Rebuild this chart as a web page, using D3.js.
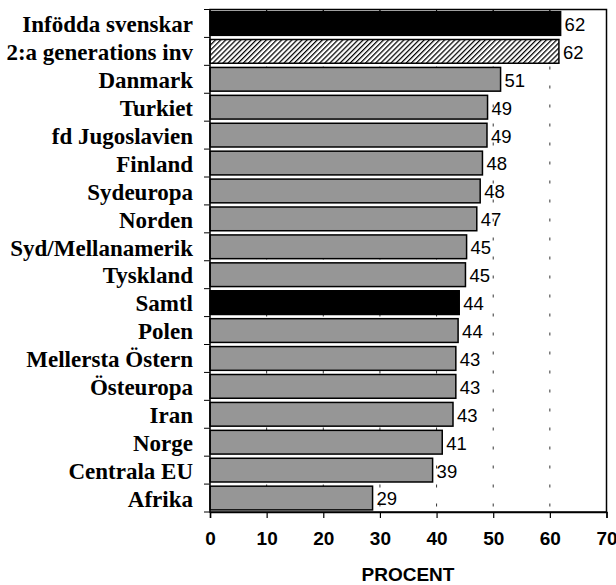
<!DOCTYPE html>
<html lang="sv">
<head>
    <meta charset="UTF-8">
    <title>Procent per ursprung</title>
    <script src="https://d3js.org/d3.v7.min.js"></script>
    <style>
        body { margin: 0; background: #fff; }
        svg { display: block; }
        .cat { font-family: "Liberation Serif", "Times New Roman", serif; font-weight: bold; font-size: 23px; }
        .val { font-family: "Liberation Sans", Arial, sans-serif; font-size: 18.5px; }
        .tick-lab { font-family: "Liberation Sans", Arial, sans-serif; font-weight: bold; font-size: 19px; }
        .title { font-family: "Liberation Sans", Arial, sans-serif; font-weight: bold; font-size: 19px; }
    </style>
</head>
<body>
<svg id="chart"></svg>
<script>
    const width = 616, height = 585;

    // data
    const categories = ["Infödda svenskar", "2:a generations inv", "Danmark", "Turkiet", "fd Jugoslavien",
        "Finland", "Sydeuropa", "Norden", "Syd/Mellanamerik", "Tyskland", "Samtl", "Polen",
        "Mellersta Östern", "Östeuropa", "Iran", "Norge", "Centrala EU", "Afrika"];
    const values = [61.9, 61.6, 51.3, 49.0, 48.9, 48.1, 47.7, 47.1, 45.3, 45.1, 44.0, 43.8,
        43.4, 43.4, 42.9, 41.0, 39.3, 28.7];
    const fills = ["black", "hatch", "gray", "gray", "gray", "gray", "gray", "gray", "gray", "gray",
        "black", "gray", "gray", "gray", "gray", "gray", "gray", "gray"];
    const xTicks = [0, 10, 20, 30, 40, 50, 60, 70];

    const pLeft = 210, pRight = 606.5, pTop = 9.5, pBottom = 512;

    const svg = d3.select("#chart").attr("width", width).attr("height", height);

    const defs = svg.append("defs");
    const pat = defs.append("pattern")
        .attr("id", "hatch")
        .attr("patternUnits", "userSpaceOnUse")
        .attr("width", 3.6).attr("height", 3.6)
        .attr("patternTransform", "rotate(45)");
    pat.append("rect").attr("width", 3.6).attr("height", 3.6).attr("fill", "#fff");
    pat.append("line").attr("x1", 0).attr("y1", 0).attr("x2", 0).attr("y2", 3.6)
        .attr("stroke", "#000").attr("stroke-width", 2.5);

    const x = d3.scaleLinear().domain([0, 70]).range([pLeft, pRight]);
    const y = d3.scaleBand().domain(categories).range([pTop, pBottom]).paddingInner(0.15).paddingOuter(0.075);

    // dashed gridlines
    svg.append("g").selectAll("line")
        .data(xTicks.filter(t => t > 0 && t < 70))
        .join("line")
        .attr("x1", d => x(d)).attr("x2", d => x(d))
        .attr("y1", pTop).attr("y2", pBottom)
        .attr("stroke", "#333").attr("stroke-width", 1)
        .attr("stroke-dasharray", "3,16");

    // bars
    svg.append("g").selectAll("rect")
        .data(categories)
        .join("rect")
        .attr("x", x(0))
        .attr("y", d => y(d))
        .attr("width", (d, i) => x(values[i]) - x(0))
        .attr("height", y.bandwidth())
        .attr("fill", (d, i) => fills[i] === "black" ? "#000" : fills[i] === "hatch" ? "url(#hatch)" : "#969696")
        .attr("stroke", "#000").attr("stroke-width", 1.5);

    // value labels
    svg.append("g").selectAll("text")
        .data(categories)
        .join("text")
        .attr("class", "val")
        .attr("x", (d, i) => x(values[i]) + 4)
        .attr("y", d => y(d) + y.bandwidth() / 2)
        .attr("dy", "0.4em")
        .text((d, i) => d3.format(".0f")(values[i]));

    // category labels
    svg.append("g").selectAll("text")
        .data(categories)
        .join("text")
        .attr("class", "cat")
        .attr("text-anchor", "end")
        .attr("x", 193)
        .attr("y", d => y(d) + y.bandwidth() / 2)
        .attr("dy", "0.38em")
        .text(d => d);

    // frame
    svg.append("rect")
        .attr("x", pLeft).attr("y", pTop)
        .attr("width", pRight - pLeft).attr("height", pBottom - pTop)
        .attr("fill", "none").attr("stroke", "#000").attr("stroke-width", 1.5);

    // y ticks at band boundaries
    const bounds = d3.range(categories.length + 1).map(i => pTop + i * (pBottom - pTop) / categories.length);
    svg.append("g").selectAll("line")
        .data(bounds)
        .join("line")
        .attr("x1", pLeft - 6).attr("x2", pLeft)
        .attr("y1", d => d).attr("y2", d => d)
        .attr("stroke", "#000").attr("stroke-width", 1);

    // top inner ticks
    svg.append("g").selectAll("line")
        .data(xTicks)
        .join("line")
        .attr("x1", d => x(d)).attr("x2", d => x(d))
        .attr("y1", pTop).attr("y2", pTop + 4)
        .attr("stroke", "#000").attr("stroke-width", 1);

    // x axis
    const xAxis = svg.append("g")
        .attr("transform", `translate(0,${pBottom})`)
        .call(d3.axisBottom(x).tickValues(xTicks).tickSize(6).tickPadding(14));
    xAxis.select(".domain").attr("stroke-width", 1.5);
    xAxis.selectAll(".tick line").attr("stroke-width", 1.2);
    xAxis.selectAll(".tick text").attr("class", "tick-lab");
    xAxis.attr("font-family", null).attr("font-size", null);

    svg.append("text")
        .attr("class", "title")
        .attr("x", 408)
        .attr("y", 581)
        .attr("text-anchor", "middle")
        .text("PROCENT");
</script>
</body>
</html>
